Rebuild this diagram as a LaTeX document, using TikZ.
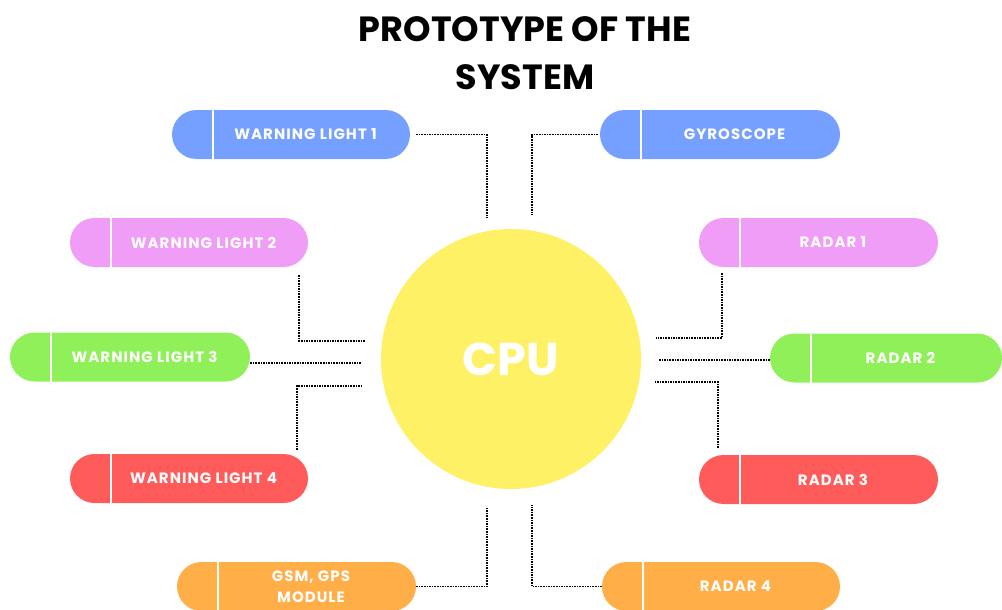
\documentclass[tikz,border=0pt]{standalone}
\usepackage{fontspec}
\setmainfont{Poppins}
\newfontfamily\pillfont{Poppins}[LetterSpace=7]
\usetikzlibrary{positioning}
\definecolor{pillblue}{RGB}{117,160,255}
\definecolor{pillpink}{RGB}{239,157,247}
\definecolor{pillgreen}{RGB}{144,240,90}
\definecolor{pillred}{RGB}{255,91,91}
\definecolor{pillorange}{RGB}{255,174,72}
\definecolor{cpuyellow}{RGB}{255,241,102}

\begin{document}
\begin{tikzpicture}[
  x=1pt,y=-1pt,
  pill/.style={rectangle,rounded corners=24.5pt,minimum width=238pt,minimum height=49pt,inner sep=0pt,
    path picture={\draw[white,line width=2.5pt] ([xshift=41pt]path picture bounding box.north west)--([xshift=41pt]path picture bounding box.south west);}},
  lbl/.style={text=white,font=\pillfont\fontsize{15}{21}\selectfont\bfseries,align=center,xshift=14.5pt},
  cpu/.style={circle,fill=cpuyellow,minimum size=260pt,inner sep=0pt},
  wire/.style={densely dotted,line width=1.6pt,draw=black}]
  \useasboundingbox (0,0) rectangle (1002,610);
  \node[font=\fontsize{35}{48}\selectfont\bfseries,align=center] (title) at (525,53) {PROTOTYPE OF THE\\SYSTEM};
  \node[cpu] (cpu) at (511,359) {};
  \node[text=white,font=\fontsize{46}{56}\selectfont\bfseries] (cpulbl) at (cpu.center) {CPU};
  % left side
  \node[pill,fill=pillblue,label={[lbl]center:WARNING LIGHT 1}] (wl1) at (291,134.5) {};
  \node[pill,fill=pillpink,label={[lbl]center:WARNING LIGHT 2}] (wl2) at (189,242.5) {};
  \node[pill,fill=pillgreen,minimum width=240pt,label={[lbl]center:WARNING LIGHT 3}] (wl3) at (130,357) {};
  \node[pill,fill=pillred,label={[lbl]center:WARNING LIGHT 4}] (wl4) at (189,478.5) {};
  \node[pill,fill=pillorange,minimum width=239pt,label={[lbl]center:GSM, GPS\\MODULE}] (gsm) at (296.5,586.5) {};
  % right side
  \node[pill,fill=pillblue,minimum width=240pt,label={[lbl]center:GYROSCOPE}] (gyro) at (720,134.5) {};
  \node[pill,fill=pillpink,minimum width=239pt,label={[lbl]center:RADAR 1}] (radar1) at (818.5,242.5) {};
  \node[pill,fill=pillgreen,minimum width=232pt,label={[lbl]center:RADAR 2}] (radar2) at (886,358) {};
  \node[pill,fill=pillred,minimum width=239pt,label={[lbl]center:RADAR 3}] (radar3) at (818.5,479.5) {};
  \node[pill,fill=pillorange,label={[lbl]center:RADAR 4}] (radar4) at (721,586.5) {};
  % loose ends near the cpu
  \coordinate (cwl1) at (487,218);
  \coordinate (cwl2) at (365,341);
  \coordinate (cwl3) at (362,363);
  \coordinate (cwl4) at (363,386);
  \coordinate (cgsm) at (487,507);
  \coordinate (cgyro) at (532,215);
  \coordinate (cr1) at (656,338);
  \coordinate (cr2) at (658,360);
  \coordinate (cr3) at (654,382);
  \coordinate (cr4) at (532,505);
  \draw[wire,shorten <=6pt] (wl1.east) -| (cwl1);
  \draw[wire,shorten <=8pt] ([xshift=-9pt]wl2.south east) |- (cwl2);
  \draw[wire] (wl3.east |- cwl3) -- (cwl3);
  \draw[wire,shorten <=4pt] ([xshift=-11pt]wl4.north east) |- (cwl4);
  \draw[wire] (gsm.east) -| (cgsm);
  \draw[wire,shorten <=2pt] (gyro.west) -| (cgyro);
  \draw[wire,shorten <=6pt] ([xshift=23pt]radar1.south west) |- (cr1);
  \draw[wire] (radar2.west |- cr2) -- (cr2);
  \draw[wire,shorten <=7pt] ([xshift=19pt]radar3.north west) |- (cr3);
  \draw[wire] (radar4.west) -| (cr4);
\end{tikzpicture}
\end{document}
